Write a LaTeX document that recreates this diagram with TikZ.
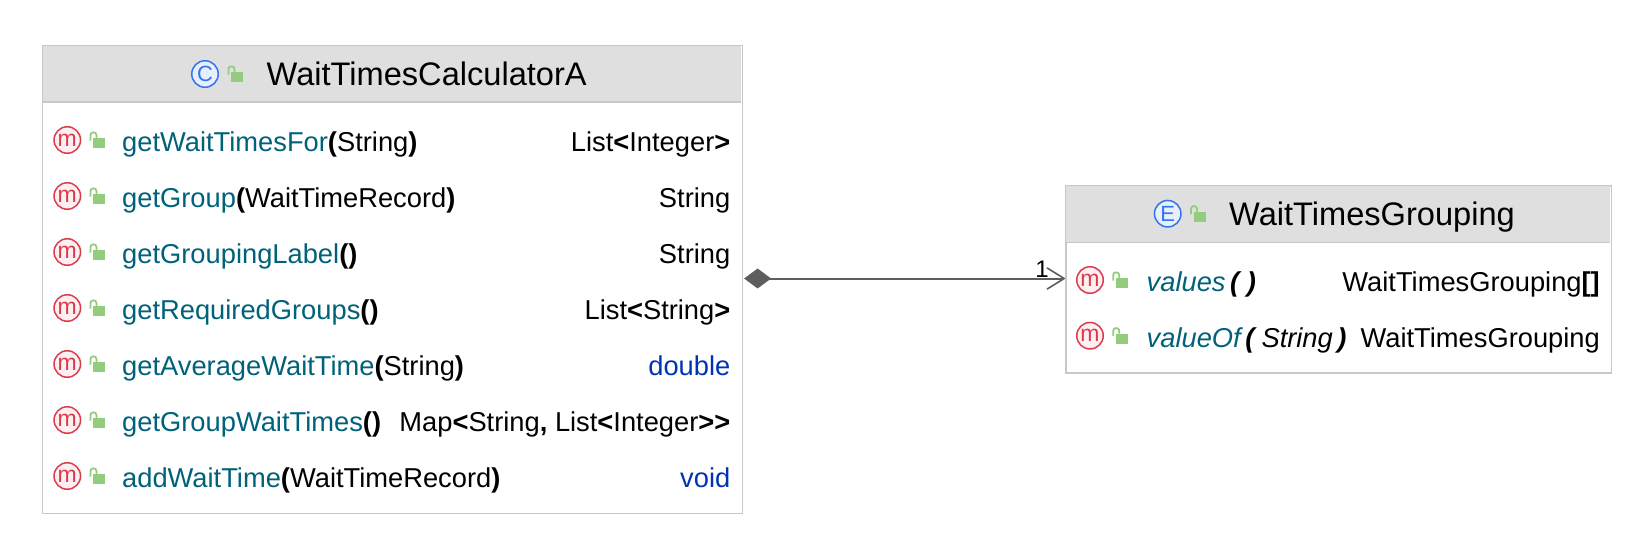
\documentclass[tikz,border=0pt]{standalone}
\usepackage{fontspec}
\setmainfont{Liberation Sans}
\usetikzlibrary{arrows.meta}
\definecolor{hdr}{HTML}{DFDFDF}
\definecolor{edge}{HTML}{C8C8C8}
\definecolor{mname}{HTML}{00627A}
\definecolor{kw}{HTML}{0033B3}
\definecolor{mred}{HTML}{DB3B4B}
\definecolor{mfill}{HTML}{FDF0F2}
\definecolor{cblue}{HTML}{3574F0}
\definecolor{cfill}{HTML}{E7EFFD}
\definecolor{lockg}{HTML}{92CC7C}
\definecolor{link}{HTML}{5E5E5E}
\newcommand{\rowfont}{\fontsize{27.3}{30}\selectfont}
\newcommand{\ttlfont}{\fontsize{32.6}{38}\selectfont}
\newcommand{\mn}[1]{\textcolor{mname}{#1}}
\newcommand{\bb}[1]{\textbf{#1}}
\newcommand{\mni}[1]{\textcolor{mname}{\itshape #1}}
\tikzset{
  x=1pt,y=-1pt,
  classbox/.style={draw=edge,line width=1.6pt,fill=white,inner sep=0pt,anchor=north west},
  headbar/.style={fill=hdr,draw=none,inner sep=0pt,anchor=north west},
  rowtext/.style={inner sep=0pt,anchor=base west,font=\rowfont,text=black},
  rettext/.style={inner sep=0pt,anchor=base east,font=\rowfont,text=black},
  titletext/.style={inner sep=0pt,anchor=base west,font=\ttlfont,text=black},
  micon/.style={circle,draw=mred,fill=mfill,line width=1.5pt,minimum size=26.5pt,inner sep=0pt,text=mred,font=\fontsize{23}{23}\selectfont},
  cicon/.style={circle,draw=cblue,fill=cfill,line width=1.5pt,minimum size=26.5pt,inner sep=0pt,text=cblue,font=\fontsize{22}{22}\selectfont},
  mult/.style={inner sep=0pt,anchor=base,font=\fontsize{24}{24}\selectfont\rmfamily,text=black},
  link line/.style={draw=link,line width=2pt,
    {Diamond[length=27pt,width=20pt,fill=link]}-{Straight Barb[length=17pt,width=21pt,line width=1.6pt,round=false]}},
  pics/lock/.style={code={
    \fill[lockg] (0,0) rectangle (12,10);
    \draw[lockg,line width=1.8pt] (-2.5,2.5) -- (-2.5,-3) .. controls (-2.5,-6.5) and (3.5,-6.5) .. (3.5,-3) -- (3.5,0);
  }}
}
\begin{document}
\begin{tikzpicture}
\useasboundingbox (0,0) rectangle (1652,555);
\fill[white] (0,0) rectangle (1652,555);
% class A
\node[classbox,minimum width=700pt,minimum height=468pt] (A) at (41.5,44.5) {};
\node[headbar,minimum width=698pt,minimum height=56pt] (Ah) at (42.5,45.5) {};
\draw[edge,line width=1.6pt] (Ah.south west) -- (Ah.south east);
\node[cicon] (Ac) at (205,74) {C};
\pic at (231,72) {lock};
\node[titletext] (At) at (266.5,85.5) {WaitTimesCalculatorA};
% class B
\node[classbox,minimum width=545.5pt,minimum height=187pt] (B) at (1065,185) {};
\node[headbar,minimum width=544pt,minimum height=56pt] (Bh) at (1066,186) {};
\draw[edge,line width=1.6pt] (Bh.south west) -- (Bh.south east);
\node[cicon] (Be) at (1167.7,213.7) {E};
\pic at (1193.5,211.7) {lock};
\node[titletext] (Bt) at (1229,225) {WaitTimesGrouping};
% rows A
\foreach \nm/\y in {a/140,b/196,c/252,d/308,e/364,f/420,g/476}{
  \node[micon] (m\nm) at (67.3,\y) {m};
  \pic at (93,\y-2) {lock};
}
\node[rowtext] (ra) at (122,151) {\mn{getWaitTimesFor}\bb{(}String\bb{)}};
\node[rettext] (sa) at (730.5,151) {List\bb{<}Integer\bb{>}};
\node[rowtext] (rb) at (122,207) {\mn{getGroup}\bb{(}WaitTimeRecord\bb{)}};
\node[rettext] (sb) at (730.5,207) {String};
\node[rowtext] (rc) at (122,263) {\mn{getGroupingLabel}\bb{()}};
\node[rettext] (sc) at (730.5,263) {String};
\node[rowtext] (rd) at (122,319) {\mn{getRequiredGroups}\bb{()}};
\node[rettext] (sd) at (730.5,319) {List\bb{<}String\bb{>}};
\node[rowtext] (re) at (122,375) {\mn{getAverageWaitTime}\bb{(}String\bb{)}};
\node[rettext] (se) at (730.5,375) {\textcolor{kw}{double}};
\node[rowtext] (rf) at (122,431) {\mn{getGroupWaitTimes}\bb{()}};
\node[rettext] (sf) at (730.5,431) {Map\bb{<}String\bb{,} List\bb{<}Integer\bb{>{}>}};
\node[rowtext] (rg) at (122,487) {\mn{addWaitTime}\bb{(}WaitTimeRecord\bb{)}};
\node[rettext] (sg) at (730.5,487) {\textcolor{kw}{void}};
% rows B
\foreach \nm/\y in {h/280,i/335.7}{
  \node[micon] (m\nm) at (1090,\y) {m};
  \pic at (1115.7,\y-2) {lock};
}
\node[rowtext] (rh) at (1146.5,291) {\mni{values}\,\bb{\itshape ( )}};
\node[rettext] (sh) at (1600,291) {WaitTimesGrouping\bb{[]}};
\node[rowtext] (ri) at (1146.5,347) {\mni{valueOf}\,\bb{\itshape (}\,{\itshape String}\,\bb{\itshape )}};
\node[rettext] (si) at (1600,347) {WaitTimesGrouping};
% link
\coordinate (from) at ([xshift=1pt]A.east |- 0,278.5);
\coordinate (to) at (B.west |- 0,278.5);
\draw[link line] (from) -- (to);
\node[mult] (one) at (1042,277) {1};
\end{tikzpicture}
\end{document}
